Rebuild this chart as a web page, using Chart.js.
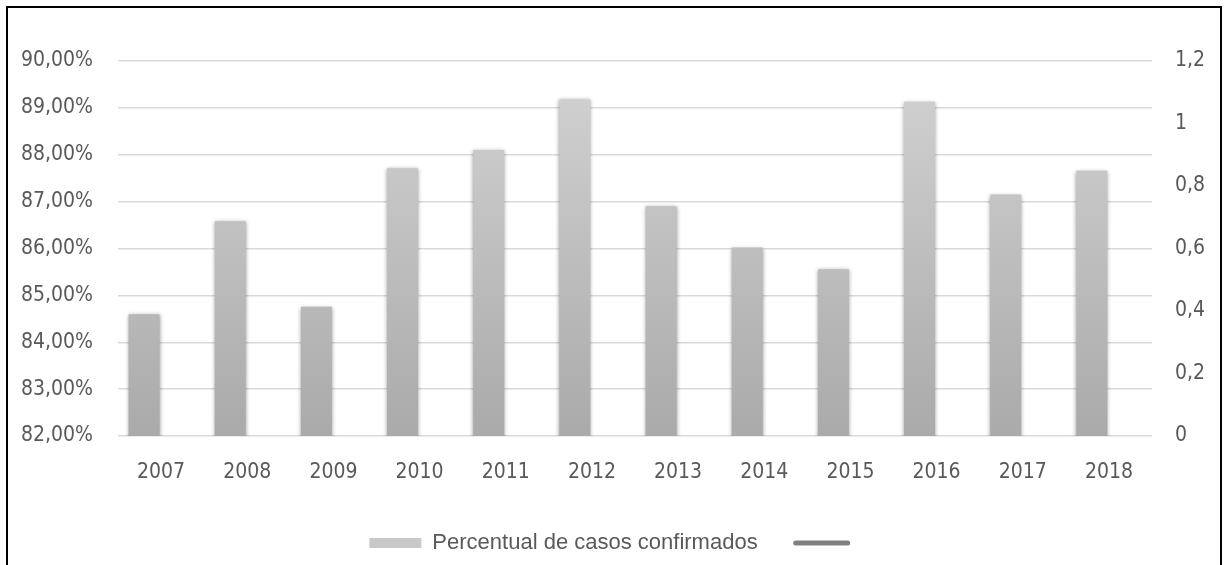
<!DOCTYPE html>
<html>
<head>
<meta charset="utf-8">
<script src="https://cdn.jsdelivr.net/npm/chart.js@4/dist/chart.umd.min.js"></script>
<style>
  body { margin: 0; background: #fff; }
  #frame {
    position: absolute; left: 6px; top: 6px;
    width: 1212px; height: 565px;
    border: 2px solid #000; border-bottom: none;
  }
</style>
</head>
<body>
<div id="frame"><canvas id="chart" width="1212" height="557"></canvas></div>
<script>
const years = ["2007", "2008", "2009", "2010", "2011", "2012", "2013", "2014", "2015", "2016", "2017", "2018"];
const confirmedPct = [84.60, 86.58, 84.76, 87.71, 88.10, 89.18, 86.90, 86.02, 85.56, 89.13, 87.15, 87.66];
const secondSeries = [];
const leftTicks = [82, 90, 1];     // min, max, step
const rightTicks = [0, 1.2, 0.2];
const seriesLabel = "Percentual de casos confirmados";

const textColor = "#595959";
const tickFont = { family: "'Liberation Sans Narrow', 'DejaVu Sans Condensed', sans-serif", size: 21 };

// soft drop shadow under the bars
const barShadow = {
  id: "barShadow",
  beforeDatasetsDraw(chart) {
    const ctx = chart.ctx;
    ctx.save();
    ctx.shadowColor = "rgba(0,0,0,0.4)";
    ctx.shadowBlur = 4;
    ctx.shadowOffsetX = 0;
    ctx.shadowOffsetY = 1;
  },
  afterDatasetsDraw(chart) {
    chart.ctx.restore();
  }
};

function barGradient(context) {
  const area = context.chart.chartArea;
  if (!area) return "#c4c4c4";
  const g = context.chart.ctx.createLinearGradient(0, area.bottom, 0, area.top);
  g.addColorStop(0, "#aaaaaa");
  g.addColorStop(1, "#d3d3d3");
  return g;
}

new Chart(document.getElementById("chart"), {
  type: "bar",
  data: {
    labels: years,
    datasets: [
      {
        label: seriesLabel,
        data: confirmedPct,
        backgroundColor: barGradient,
        barPercentage: 0.91,
        categoryPercentage: 0.79,
        yAxisID: "y"
      },
      {
        // second series on the secondary axis, no values
        label: "",
        data: secondSeries,
        backgroundColor: "#808080",
        barPercentage: 0.91,
        categoryPercentage: 0.79,
        yAxisID: "y2"
      }
    ]
  },
  options: {
    responsive: false,
    devicePixelRatio: 1,
    animation: false,
    layout: { padding: { top: 53, left: 0, right: 0, bottom: 1 } },
    scales: {
      x: {
        grid: { display: false, drawTicks: false },
        border: { display: false },
        afterFit(scale) { scale.height = 58; },
        ticks: { color: textColor, font: tickFont, padding: 24, maxRotation: 0 }
      },
      y: {
        position: "left",
        min: leftTicks[0], max: leftTicks[1],
        grid: { color: "#d9d9d9", lineWidth: 1.5, drawTicks: false },
        border: { display: false },
        afterFit(scale) { scale.width = 110; },
        ticks: {
          stepSize: leftTicks[2],
          color: textColor, font: tickFont, padding: 25,
          callback: v => v.toFixed(2).replace(".", ",") + "%"
        }
      },
      y2: {
        position: "right",
        min: rightTicks[0], max: rightTicks[1],
        grid: { display: false, drawTicks: false },
        border: { display: false },
        afterFit(scale) { scale.width = 68; },
        ticks: {
          stepSize: rightTicks[2],
          color: textColor, font: tickFont, padding: 23,
          callback: v => String(Math.round(v * 10) / 10).replace(".", ",")
        }
      }
    },
    plugins: {
      tooltip: { enabled: false },
      legend: {
        position: "bottom",
        labels: {
          usePointStyle: true,
          pointStyleWidth: 52,
          boxHeight: 10,
          padding: 38,
          color: textColor,
          font: { family: "'Liberation Sans', Arial, sans-serif", size: 22 },
          generateLabels() {
            return [
              { text: seriesLabel, fillStyle: "#c8c8c8", strokeStyle: "#c8c8c8", lineWidth: 0,
                pointStyle: "rect", datasetIndex: 0, hidden: false, fontColor: textColor },
              { text: "", fillStyle: "#808080", strokeStyle: "#808080", lineWidth: 5, lineCap: "round",
                pointStyle: "line", datasetIndex: 1, hidden: false, fontColor: textColor }
            ];
          }
        }
      }
    }
  },
  plugins: [barShadow]
});
</script>
</body>
</html>
